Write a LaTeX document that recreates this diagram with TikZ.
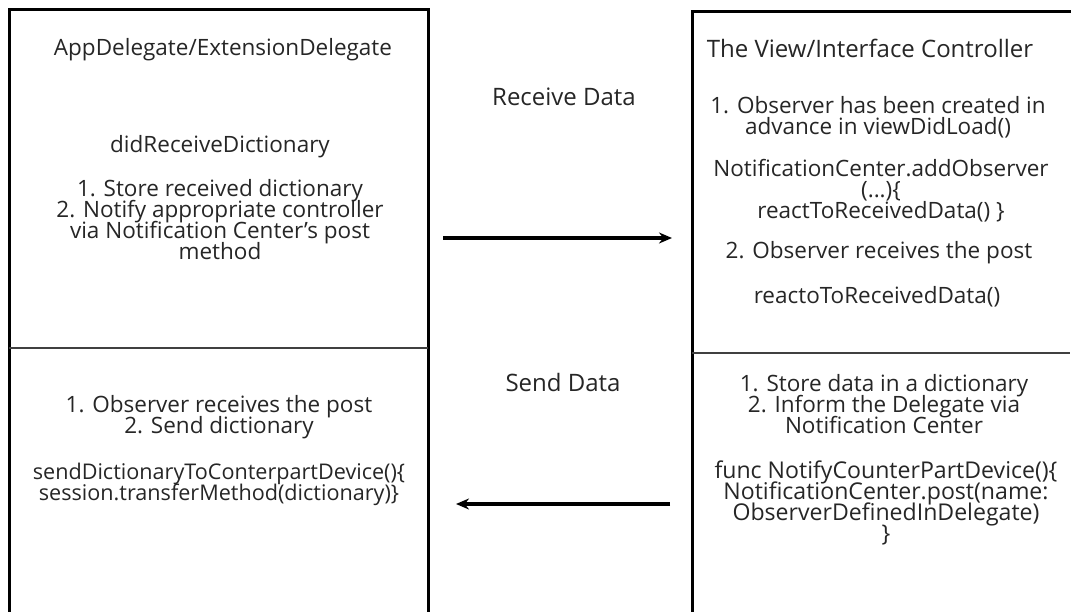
\documentclass[tikz,border=0pt]{standalone}
\usepackage{fontspec}
\setmainfont{Open Sans}
\usetikzlibrary{arrows.meta}
\definecolor{ink}{HTML}{262626}
\newcommand{\tightlines}{\lineskiplimit=-30pt\lineskip=0pt}
\tikzset{
  panel/.style={draw=black, line width=3pt},
  divider/.style={draw=black!75, line width=1.4pt},
  txt/.style={text=ink, align=center, inner sep=0pt,
    font=\fontsize{22.5}{21}\selectfont\tightlines},
  big/.style={font=\fontsize{24}{21}\selectfont\tightlines},
  mid/.style={font=\fontsize{23.1}{21}\selectfont\tightlines},
  small/.style={font=\fontsize{21.6}{21}\selectfont\tightlines},
  flow/.style={draw=black, line width=3.4pt,
    -{Stealth[length=13pt,width=11pt]}},
}
\begin{document}
\begin{tikzpicture}[x=1pt, y=-1pt]
\useasboundingbox (0,0) rectangle (1071,612);
\fill[white] (0,0) rectangle (1071,612);

% delegate side
\draw[panel] (9,10) rectangle (428,613);
\draw[divider] (9,348) -- (428,348);
% controller side
\draw[panel] (692,12) rectangle (1072,613);
\draw[divider] (692,353) -- (1070,353);

% delegate, receiving half
\node[txt] (dtitle) at (223,50) {AppDelegate/ExtensionDelegate};
\node[txt] (dmethod) at (220,147) {didReceiveDictionary};
\node[txt] (dsteps) at (220,220) {1. Store received dictionary\\2. Notify appropriate controller\\via Notification Center's post\\method};

% delegate, sending half
\node[txt] (dsend) at (219,417) {1. Observer receives the post\\2. Send dictionary};
\node[txt, small] (dcode) at (219,484) {sendDictionaryToConterpartDevice()\{\\session.transferMethod(dictionary)\}};

% controller, receiving half
\node[txt, big] (ctitle) at (870,48) {The View/Interface Controller};
\node[txt] (cobs) at (878,117) {1. Observer has been created in\\advance in viewDidLoad()};
\node[txt] (cadd) at (881,191) {NotificationCenter.addObserver\\(...)\{\\reactToReceivedData() \}};
\node[txt] (cpost) at (879,253) {2. Observer receives the post};
\node[txt] (creact) at (877,297) {reactoToReceivedData()};

% controller, sending half
\node[txt] (cstore) at (884,404) {1. Store data in a dictionary\\2. Inform the Delegate via\\Notification Center};
\node[txt, mid] (cfunc) at (886,503) {func NotifyCounterPartDevice()\{\\NotificationCenter.post(name:\\ObserverDefinedInDelegate)\\\}};

% flow between the two sides
\node[txt, big] (recv) at (564,97) {Receive Data};
\node[txt, big] (send) at (563,382) {Send Data};
\coordinate (r1) at (443,238);
\coordinate (r2) at (672,238);
\coordinate (s1) at (670,504);
\coordinate (s2) at (456,504);
\draw[flow] (r1) -- (r2);
\draw[flow] (s1) -- (s2);
\end{tikzpicture}
\end{document}
